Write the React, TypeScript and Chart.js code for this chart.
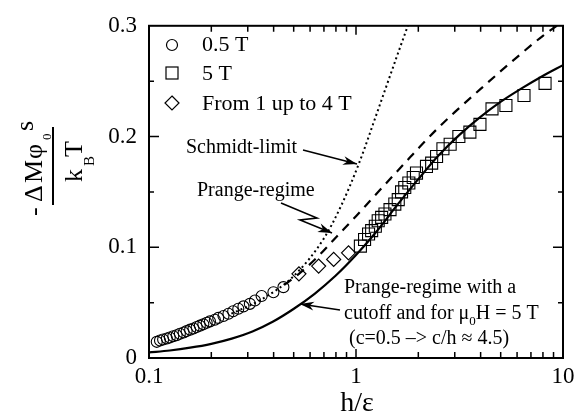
import React, { useEffect, useRef } from 'react';
import { Chart, registerables } from 'chart.js';

Chart.register(...registerables);

// ---------- data ----------
const circleX = [0.109, 0.113, 0.117, 0.122, 0.126, 0.131, 0.136, 0.141, 0.147, 0.152, 0.158, 0.164, 0.170, 0.176, 0.183, 0.190, 0.197, 0.208, 0.216, 0.229, 0.242, 0.255, 0.270, 0.286, 0.307, 0.325, 0.350, 0.399, 0.446];
const circleY = [0.0146, 0.0158, 0.0167, 0.0176, 0.0185, 0.0197, 0.0206, 0.0219, 0.0230, 0.0243, 0.0256, 0.0266, 0.0280, 0.0292, 0.0304, 0.0318, 0.0331, 0.0346, 0.0362, 0.0379, 0.0400, 0.0422, 0.0445, 0.0466, 0.0489, 0.0519, 0.0560, 0.0594, 0.0640];

const squareX = [1.05, 1.10, 1.15, 1.19, 1.24, 1.28, 1.33, 1.38, 1.46, 1.54, 1.60, 1.66, 1.72, 1.80, 1.89, 1.96, 2.19, 2.32, 2.45, 2.63, 2.85, 3.14, 3.55, 3.97, 4.54, 5.30, 6.48, 8.19];
const squareY = [0.101, 0.107, 0.112, 0.115, 0.119, 0.124, 0.127, 0.130, 0.134, 0.139, 0.143, 0.150, 0.154, 0.158, 0.163, 0.167, 0.173, 0.176, 0.182, 0.189, 0.193, 0.200, 0.204, 0.211, 0.225, 0.228, 0.237, 0.248];

const diamondX = [0.53, 0.66, 0.78, 0.92];
const diamondY = [0.076, 0.083, 0.089, 0.095];

const cutoffX = [0.1, 0.126, 0.158, 0.2, 0.251, 0.316, 0.398, 0.501, 0.631, 0.794, 1.0, 1.26, 1.58, 2.0, 2.51, 3.16, 3.98, 5.01, 6.31, 7.94, 10];
const cutoffY = [0.005, 0.0068, 0.0093, 0.0128, 0.0175, 0.024, 0.033, 0.0445, 0.058, 0.074, 0.093, 0.1145, 0.138, 0.1615, 0.183, 0.2015, 0.2175, 0.2315, 0.2435, 0.2545, 0.2645];

const prangeX = [0.45, 0.53, 0.65, 0.81, 1.0, 1.17, 1.5, 1.82, 2.04, 2.5, 3.0, 4.0, 5.0, 6.2, 8.0, 10];
const prangeY = [0.066, 0.076, 0.091, 0.110, 0.128, 0.142, 0.164, 0.181, 0.191, 0.208, 0.222, 0.243, 0.259, 0.274, 0.291, 0.304];

const schmidtX = [0.25, 0.35, 0.5, 0.7, 0.85, 1.03, 1.3, 1.58, 1.78];
const schmidtY = [0.040, 0.053, 0.074, 0.108, 0.138, 0.175, 0.228, 0.273, 0.300];

const xTickLabels = [0.1, 1, 10];
const xMinorTicks = [0.2, 0.3, 0.4, 0.5, 0.6, 0.7, 0.8, 0.9, 2, 3, 4, 5, 6, 7, 8, 9];
const yMajorTicks = [0.1, 0.2];
const yMinorTicks = [0.05, 0.15, 0.25];

const legendLabels = ['0.5 T', '5 T', 'From 1 up to 4 T'];

const SERIF = "'Liberation Serif', 'Times New Roman', serif";

const pts = (xs: number[], ys: number[]) => xs.map((x, i) => ({ x, y: ys[i] }));

function arrow(ctx: CanvasRenderingContext2D, path: number[][], head = 14, half = 4.5) {
  ctx.beginPath();
  ctx.moveTo(path[0][0], path[0][1]);
  for (let i = 1; i < path.length; i++) ctx.lineTo(path[i][0], path[i][1]);
  ctx.stroke();
  const [x1, y1] = path[path.length - 2];
  const [x2, y2] = path[path.length - 1];
  const ang = Math.atan2(y2 - y1, x2 - x1);
  ctx.beginPath();
  ctx.moveTo(x2, y2);
  ctx.lineTo(x2 - head * Math.cos(ang) + half * Math.sin(ang), y2 - head * Math.sin(ang) - half * Math.cos(ang));
  ctx.lineTo(x2 - head * 0.7 * Math.cos(ang), y2 - head * 0.7 * Math.sin(ang));
  ctx.lineTo(x2 - head * Math.cos(ang) - half * Math.sin(ang), y2 - head * Math.sin(ang) + half * Math.cos(ang));
  ctx.closePath();
  ctx.fill();
}

const overlay = {
  id: 'overlay',
  afterDraw(chart: any) {
    const { ctx, chartArea: a, scales } = chart;
    const xs = scales.x;
    const ys = scales.y;
    ctx.save();
    ctx.strokeStyle = '#000';
    ctx.fillStyle = '#000';

    // frame
    ctx.lineWidth = 2;
    ctx.strokeRect(a.left, a.top, a.right - a.left, a.bottom - a.top);

    // ticks (inward)
    ctx.lineWidth = 1.5;
    ctx.beginPath();
    for (const v of xMinorTicks) {
      const p = xs.getPixelForValue(v);
      ctx.moveTo(p, a.bottom); ctx.lineTo(p, a.bottom - 6);
      ctx.moveTo(p, a.top); ctx.lineTo(p, a.top + 6);
    }
    {
      const p = xs.getPixelForValue(1);
      ctx.moveTo(p, a.bottom); ctx.lineTo(p, a.bottom - 9);
      ctx.moveTo(p, a.top); ctx.lineTo(p, a.top + 9);
    }
    for (const v of yMajorTicks) {
      const p = ys.getPixelForValue(v);
      ctx.moveTo(a.left, p); ctx.lineTo(a.left + 10, p);
      ctx.moveTo(a.right, p); ctx.lineTo(a.right - 10, p);
    }
    for (const v of yMinorTicks) {
      const p = ys.getPixelForValue(v);
      ctx.moveTo(a.left, p); ctx.lineTo(a.left + 5, p);
      ctx.moveTo(a.right, p); ctx.lineTo(a.right - 5, p);
    }
    ctx.stroke();

    // legend
    ctx.lineWidth = 1.2;
    ctx.beginPath();
    ctx.arc(172, 45, 5.5, 0, Math.PI * 2);
    ctx.stroke();
    ctx.strokeRect(166, 67, 12, 12);
    ctx.beginPath();
    ctx.moveTo(172, 96); ctx.lineTo(179, 103); ctx.lineTo(172, 110); ctx.lineTo(165, 103); ctx.closePath();
    ctx.stroke();
    ctx.font = `22px ${SERIF}`;
    ctx.textBaseline = 'middle';
    ctx.textAlign = 'left';
    ctx.fillText(legendLabels[0], 202, 45);
    ctx.fillText(legendLabels[1], 202, 74);
    ctx.fillText(legendLabels[2], 202, 104);

    // annotations
    ctx.font = `20px ${SERIF}`;
    ctx.fillText('Schmidt-limit', 186, 148);
    ctx.fillText('Prange-regime', 197, 191);
    ctx.fillText('Prange-regime with a', 344, 288);
    let x = 344;
    const l2a = 'cutoff and for \u03bc';
    ctx.fillText(l2a, x, 314);
    x += ctx.measureText(l2a).width;
    ctx.font = `13px ${SERIF}`;
    ctx.fillText('0', x, 322);
    x += ctx.measureText('0').width;
    ctx.font = `20px ${SERIF}`;
    ctx.fillText('H = 5 T', x, 314);
    ctx.fillText('(c=0.5 \u2013> c/h \u2248 4.5)', 349, 339);

    ctx.lineWidth = 1.6;
    arrow(ctx, [[303, 150], [357, 164]]);
    arrow(ctx, [[281, 203], [317, 218], [300, 220], [332, 233]]);
    arrow(ctx, [[340, 310], [300, 304]]);

    // y title (rotated fraction)
    ctx.translate(53, 168);
    ctx.rotate(-Math.PI / 2);
    ctx.textBaseline = 'alphabetic';
    ctx.textAlign = 'left';
    ctx.font = `26px ${SERIF}`;
    ctx.fillText('-', -48, -11);
    ctx.fillText('\u0394', -34, -11);
    ctx.fillText('M', -15, -11);
    ctx.fillText('\u03c6', 9, -11);
    ctx.fillText('s', 37, -20);
    ctx.font = `13px ${SERIF}`;
    ctx.fillText('0', 28, -2);
    ctx.font = `26px ${SERIF}`;
    ctx.fillText('k', -14, 29);
    ctx.fillText('T', 11, 29);
    ctx.font = `15px ${SERIF}`;
    ctx.fillText('B', 2, 41);
    ctx.lineWidth = 2;
    ctx.beginPath();
    ctx.moveTo(-37, 0); ctx.lineTo(41, 0);
    ctx.stroke();
    ctx.setTransform(1, 0, 0, 1, 0, 0);

    // x title
    ctx.font = `28px ${SERIF}`;
    ctx.textAlign = 'center';
    ctx.textBaseline = 'alphabetic';
    ctx.fillText('h/\u03b5', 357, 411);

    ctx.restore();
  },
};

export default function App() {
  const ref = useRef<HTMLCanvasElement | null>(null);
  useEffect(() => {
    if (!ref.current) return;
    const chart = new Chart(ref.current, {
      type: 'scatter',
      data: {
        datasets: [
          {
            type: 'line',
            label: 'cutoff',
            data: pts(cutoffX, cutoffY),
            borderColor: '#000',
            borderWidth: 2.2,
            pointRadius: 0,
            cubicInterpolationMode: 'monotone',
            showLine: true,
          } as any,
          {
            type: 'line',
            label: 'Prange',
            data: pts(prangeX, prangeY),
            borderColor: '#000',
            borderWidth: 2.2,
            borderDash: [9, 7],
            pointRadius: 0,
            cubicInterpolationMode: 'monotone',
            showLine: true,
          } as any,
          {
            type: 'line',
            label: 'Schmidt',
            data: pts(schmidtX, schmidtY),
            borderColor: '#000',
            borderWidth: 2,
            borderDash: [2, 3],
            pointRadius: 0,
            cubicInterpolationMode: 'monotone',
            showLine: true,
          } as any,
          {
            label: legendLabels[0],
            data: pts(circleX, circleY),
            pointStyle: 'circle',
            pointRadius: 5.5,
            borderColor: '#000',
            backgroundColor: 'rgba(0,0,0,0)',
            borderWidth: 1.1,
          },
          {
            label: legendLabels[1],
            data: pts(squareX, squareY),
            pointStyle: 'rect',
            pointRadius: 8.5,
            borderColor: '#000',
            backgroundColor: 'rgba(0,0,0,0)',
            borderWidth: 1.1,
          },
          {
            label: legendLabels[2],
            data: pts(diamondX, diamondY),
            pointStyle: 'rectRot',
            pointRadius: 7,
            borderColor: '#000',
            backgroundColor: 'rgba(0,0,0,0)',
            borderWidth: 1.2,
          },
        ],
      },
      options: {
        animation: false,
        responsive: true,
        maintainAspectRatio: false,
        layout: { padding: { left: 0, top: 23, right: 22, bottom: 0 } },
        plugins: { legend: { display: false }, tooltip: { enabled: false } },
        scales: {
          x: {
            type: 'logarithmic',
            min: 0.1,
            max: 10,
            grid: { display: false, drawTicks: false },
            border: { display: false },
            afterBuildTicks: (s: any) => {
              s.ticks = xTickLabels.map((v) => ({ value: v }));
            },
            afterFit: (s: any) => {
              s.height = 57;
            },
            ticks: {
              autoSkip: false,
              maxRotation: 0,
              padding: 5,
              color: '#000',
              font: { family: SERIF, size: 23 },
              callback: (v: any) => String(v),
            },
          },
          y: {
            type: 'linear',
            min: 0,
            max: 0.3,
            grid: { display: false, drawTicks: false },
            border: { display: false },
            afterFit: (s: any) => {
              s.width = 149;
            },
            ticks: {
              stepSize: 0.1,
              padding: 12,
              color: '#000',
              font: { family: SERIF, size: 23 },
              callback: (v: any) => (v === 0 ? '0' : Number(v).toFixed(1)),
            },
          },
        },
      },
      plugins: [overlay],
    });
    return () => chart.destroy();
  }, []);
  return (
    <div style={{ position: 'absolute', left: 0, top: 0, width: 585, height: 415, background: '#fff' }}>
      <canvas ref={ref} />
    </div>
  );
}
